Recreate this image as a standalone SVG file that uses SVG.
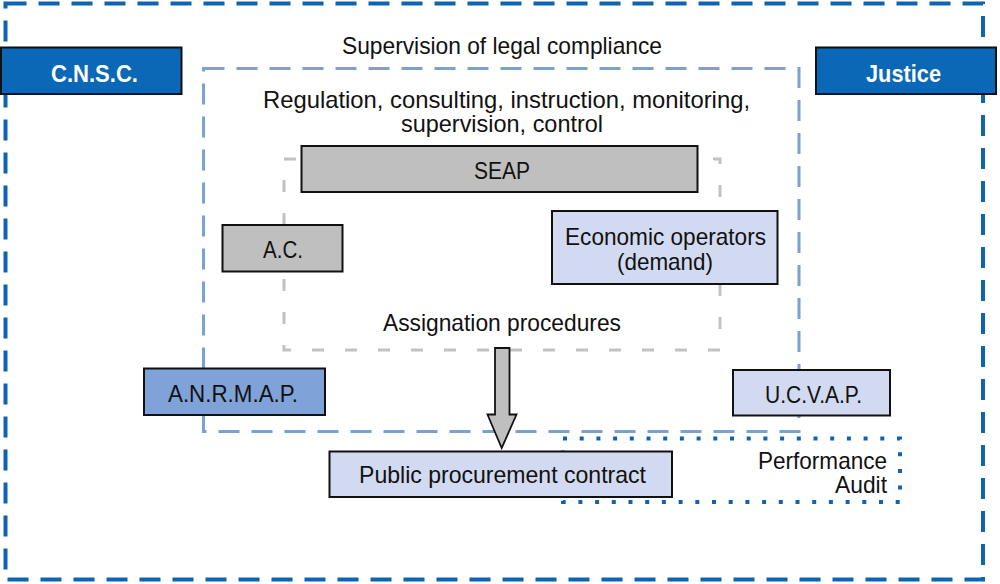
<svg xmlns="http://www.w3.org/2000/svg" width="1000" height="584" viewBox="0 0 1000 584">
<style>
.t{font-family:"Liberation Sans",Arial,sans-serif;font-size:24px;fill:#111}
.tb{font-family:"Liberation Sans",Arial,sans-serif;font-size:24px;font-weight:bold;fill:#fff}
.box{stroke:#111;stroke-width:2}
.gray{fill:#bfbfbf}
.light{fill:#d1daf0}
.mid{fill:#7fa3d8}
.dark{fill:#0b68b6}
</style>
<rect width="1000" height="584" fill="#fff"/>
<g id="frames" fill="none">
<rect id="outer" x="5.5" y="3.5" width="977.5" height="576" stroke="#0e64b0" stroke-width="4" stroke-dasharray="21 12"/>
<rect id="middle" x="203.5" y="68.5" width="595.5" height="363" stroke="#7ba0d2" stroke-width="3" stroke-dasharray="21 12"/>
<rect id="inner" x="284" y="159" width="436" height="191" stroke="#c2c2c2" stroke-width="3" stroke-dasharray="12 21"/>
<rect id="audit" x="563" y="438.5" width="337" height="63.5" stroke="#0e64b0" stroke-width="4" stroke-dasharray="4 12.7"/>
</g>
<g id="labels">
<text class="t" x="502" y="54" text-anchor="middle" textLength="320" lengthAdjust="spacingAndGlyphs">Supervision of legal compliance</text>
<text class="t" x="506.5" y="108" text-anchor="middle" textLength="487" lengthAdjust="spacingAndGlyphs">Regulation, consulting, instruction, monitoring,</text>
<text class="t" x="502" y="132" text-anchor="middle" textLength="202" lengthAdjust="spacingAndGlyphs">supervision, control</text>
<text class="t" x="502" y="331" text-anchor="middle" textLength="238" lengthAdjust="spacingAndGlyphs">Assignation procedures</text>
<text class="t" x="887" y="469" text-anchor="end" textLength="129" lengthAdjust="spacingAndGlyphs">Performance</text>
<text class="t" x="887" y="493" text-anchor="end" textLength="52" lengthAdjust="spacingAndGlyphs">Audit</text>
</g>
<g id="connectors">
<path d="M495,348 L509.5,348 L509.5,414.5 L516.5,414.5 L501.7,448 L487.5,414.5 L495,414.5 Z" class="gray" stroke="#111" stroke-width="1.8" stroke-linejoin="miter"/>
</g>
<g id="cnsc">
<rect x="1" y="47.5" width="180.5" height="46.5" class="box dark"/>
<text class="tb" x="94.5" y="82" text-anchor="middle" textLength="87" lengthAdjust="spacingAndGlyphs">C.N.S.C.</text>
</g>
<g id="justice">
<rect x="816" y="47.5" width="180" height="46.5" class="box dark"/>
<text class="tb" x="903.5" y="82" text-anchor="middle" textLength="75" lengthAdjust="spacingAndGlyphs">Justice</text>
</g>
<g id="seap">
<rect x="301.5" y="146" width="396" height="46" class="box gray"/>
<text class="t" x="502" y="179" text-anchor="middle" textLength="56" lengthAdjust="spacingAndGlyphs">SEAP</text>
</g>
<g id="ac">
<rect x="222.5" y="225" width="120" height="46.5" class="box gray"/>
<text class="t" x="283" y="258" text-anchor="middle" textLength="40" lengthAdjust="spacingAndGlyphs">A.C.</text>
</g>
<g id="economic">
<rect x="552" y="211" width="225.5" height="73" class="box light"/>
<text class="t" x="665.5" y="245" text-anchor="middle" textLength="201" lengthAdjust="spacingAndGlyphs">Economic operators</text>
<text class="t" x="665" y="270" text-anchor="middle" textLength="96" lengthAdjust="spacingAndGlyphs">(demand)</text>
</g>
<g id="anrmap">
<rect x="144" y="368.5" width="181" height="46.5" class="box mid"/>
<text class="t" x="233" y="401.5" text-anchor="middle" textLength="130" lengthAdjust="spacingAndGlyphs">A.N.R.M.A.P.</text>
</g>
<g id="ucvap">
<rect x="733" y="370" width="157" height="45.5" class="box light"/>
<text class="t" x="813.5" y="403" text-anchor="middle" textLength="97" lengthAdjust="spacingAndGlyphs">U.C.V.A.P.</text>
</g>
<g id="contract">
<rect x="329.5" y="451.5" width="342.5" height="45.5" class="box light"/>
<text class="t" x="502.5" y="483" text-anchor="middle" textLength="287" lengthAdjust="spacingAndGlyphs">Public procurement contract</text>
</g>
</svg>
